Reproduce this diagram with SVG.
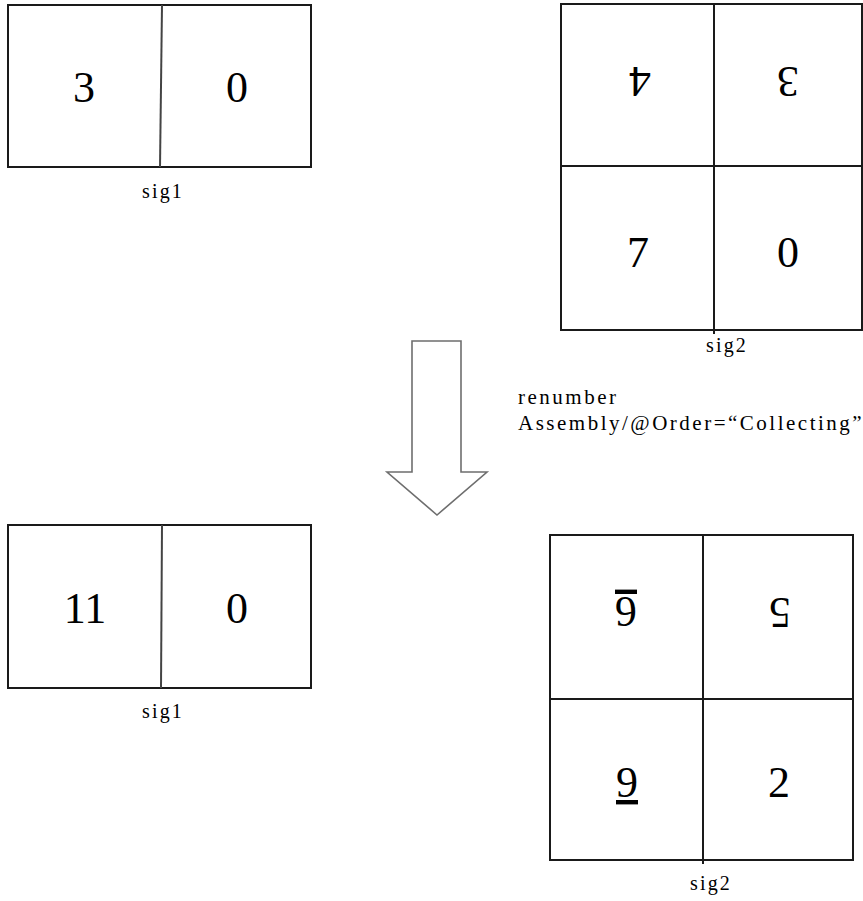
<svg xmlns="http://www.w3.org/2000/svg" width="863" height="901" viewBox="0 0 863 901">
<style>
.box{fill:#fff;stroke:#1a1a1a;stroke-width:2}
.div{stroke:#1a1a1a;stroke-width:2;fill:none}
.divg{stroke:#444;stroke-width:2;fill:none}
.num{font-family:"Liberation Serif","Times New Roman",serif;font-size:44px;fill:#000;text-anchor:middle}
.lbl{font-family:"Liberation Serif","Times New Roman",serif;font-size:20px;fill:#000;text-anchor:middle;letter-spacing:2.2px}
.note{font-family:"Liberation Serif","Times New Roman",serif;font-size:21px;fill:#000;letter-spacing:2.5px}
.arrow{fill:#fff;stroke:#6e6e6e;stroke-width:1.6}
</style>
<rect width="863" height="901" fill="#fff"/>

<g id="sig1-before">
<rect class="box" x="8" y="5" width="303" height="162"/>
<line class="divg" x1="162" y1="5" x2="160" y2="167"/>
<text class="num" x="84" y="102">3</text>
<text class="num" x="237" y="102">0</text>
<text class="lbl" x="163" y="198">sig1</text>
</g>

<g id="sig2-before">
<rect class="box" x="561" y="4" width="301" height="326"/>
<line class="div" x1="714" y1="4" x2="714" y2="334"/>
<line class="div" x1="561" y1="166" x2="862" y2="166"/>
<text class="num" x="640" y="97" transform="rotate(180 640 82)">4</text>
<text class="num" x="788" y="97" transform="rotate(180 788 82)">3</text>
<text class="num" x="638" y="267">7</text>
<text class="num" x="788" y="267">0</text>
<text class="lbl" x="727" y="352">sig2</text>
</g>

<g id="connectors">
<path class="arrow" d="M412,341 L461,341 L461,472 L487,472 L437,515 L387,472 L412,472 Z"/>
</g>

<g id="renumber-note">
<text class="note" x="518" y="404">renumber</text>
<text class="note" x="518" y="430">Assembly/@Order=“Collecting”</text>
</g>

<g id="sig1-after">
<rect class="box" x="8" y="525" width="303" height="163"/>
<line class="divg" x1="162" y1="525" x2="161" y2="688"/>
<text class="num" x="85" y="623">11</text>
<text class="num" x="237" y="623">0</text>
<text class="lbl" x="163" y="718">sig1</text>
</g>

<g id="sig2-after">
<rect class="box" x="550" y="535" width="303" height="325"/>
<line class="div" x1="703" y1="535" x2="703" y2="864"/>
<line class="div" x1="550" y1="699" x2="853" y2="699"/>
<text class="num" x="626" y="627" text-decoration="underline" transform="rotate(180 626 612)">6</text>
<text class="num" x="780" y="628" transform="rotate(180 780 613)">5</text>
<text class="num" x="627" y="797" text-decoration="underline">9</text>
<text class="num" x="779" y="797">2</text>
<text class="lbl" x="711" y="890">sig2</text>
</g>
</svg>
